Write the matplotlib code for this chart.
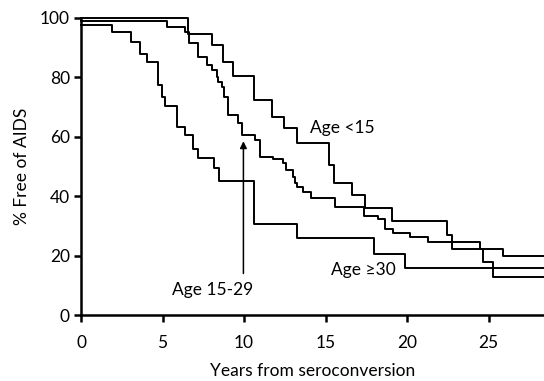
import numpy as np
import matplotlib
matplotlib.use("Agg")
import matplotlib.pyplot as plt

plt.rcParams['font.family'] = ['Lato', 'DejaVu Sans']

# step times (years) and % free of AIDS after each step
t_lt15 = [0, 6.56, 8.02, 8.73, 9.34, 10.63, 11.70, 12.45, 13.23, 15.2, 15.5, 16.6,
          17.4, 19.06, 22.43, 22.74, 24.68, 25.3]
v_lt15 = [100, 94.6, 90.9, 85.3, 80.5, 72.4, 66.6, 63.1, 57.8, 50.5, 44.3, 40.4,
          35.9, 31.6, 26.9, 22.4, 17.9, 12.7]

t_15_29 = [0, 5.26, 6.38, 6.65, 7.2, 7.71, 8.02, 8.33, 8.43, 8.63, 8.77, 9.04, 9.65,
           9.86, 10.7, 10.98, 11.8, 12.41, 12.58, 13.0, 13.1, 13.23, 13.6, 14.1,
           15.58, 17.38, 18.2, 18.65, 19.16, 20.18, 21.3, 24.48, 25.9]
v_15_29 = [98.8, 97, 95.4, 91.5, 86.8, 84.2, 82.5, 80.2, 78.6, 76.9, 73.5, 67.3, 64.5,
           60.6, 59, 53.3, 52.4, 51.1, 48.8, 46.6, 44.3, 43.2, 41.5, 39.3,
           36.5, 33.3, 32.2, 28.9, 27.5, 26.2, 24.7, 22.4, 19.9]

t_ge30 = [0, 1.88, 3.07, 3.62, 4.07, 4.74, 4.95, 5.15, 5.91, 6.38, 6.89, 7.2, 8.16,
          8.49, 10.6, 13.23, 17.98, 19.88]
v_ge30 = [97.6, 95.2, 92, 87.9, 85.1, 77.4, 73.5, 70.4, 63.4, 60.6, 55.9, 53, 49.6,
          45.2, 30.5, 25.8, 20.5, 15.7]

x_ticks = [0, 5, 10, 15, 20, 25]
y_ticks = [0, 20, 40, 60, 80, 100]
x_max = 28.4

fig = plt.figure(figsize=(5.44, 3.81), dpi=100)
ax = fig.add_axes([0.149, 0.173, 0.851, 0.78])

for t, v in [(t_lt15, v_lt15), (t_15_29, v_15_29), (t_ge30, v_ge30)]:
    tt = np.append(t, x_max)
    vv = np.append(v, v[-1])
    ax.step(tt, vv, where='post', color='black', lw=1.4, clip_on=False)

ax.set_xlim(0, x_max)
ax.set_ylim(0, 100)
ax.set_xticks(x_ticks)
ax.set_yticks(y_ticks)
ax.tick_params(direction='out', length=5, width=1.8, labelsize=12.5)
ax.tick_params(axis='x', pad=9)
ax.tick_params(axis='y', pad=3)
for s in ['top', 'right']:
    ax.spines[s].set_visible(False)
for s in ['left', 'bottom']:
    ax.spines[s].set_linewidth(1.8)

ax.set_xlabel('Years from seroconversion', fontsize=12.5, labelpad=9)
ax.set_ylabel('% Free of AIDS', fontsize=12.5, labelpad=7)

# curve labels
ax.text(16.0, 63, 'Age <15', fontsize=12.5, ha='center', va='center')
ax.text(17.3, 15.3, 'Age \u226530', fontsize=12.5, ha='center', va='center')
ax.text(8.1, 8.6, 'Age 15-29', fontsize=12.5, ha='center', va='center')
ax.annotate('', xy=(9.96, 58.5), xytext=(9.96, 14),
            arrowprops=dict(arrowstyle='-|>', color='black', lw=1.1,
                            mutation_scale=10, shrinkA=0, shrinkB=0))

fig.savefig('out.png', dpi=100)
